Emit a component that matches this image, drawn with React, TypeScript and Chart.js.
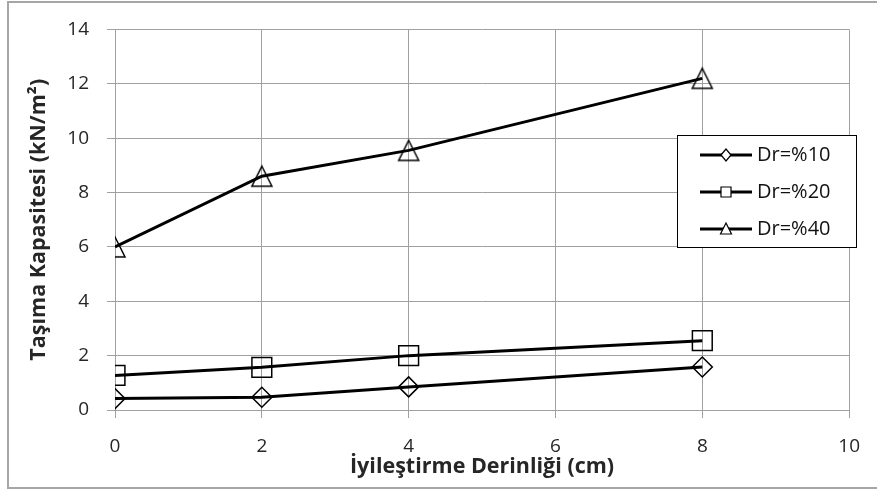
import React, { useEffect, useRef } from "react";
import { Chart, registerables } from "chart.js";

Chart.register(...registerables);

const depths = [0, 2, 4, 8];
const seriesLabels = ["Dr=%10", "Dr=%20", "Dr=%40"];
const dr10 = [0.42, 0.47, 0.85, 1.58];
const dr20 = [1.27, 1.57, 2.0, 2.55];
const dr40 = [6.0, 8.6, 9.55, 12.2];
const xTitle = "İyileştirme Derinliği (cm)";
const yTitle = "Taşıma Kapasitesi (kN/m²)";

const FONT = "'Open Sans', 'Noto Sans', sans-serif";
const TEXT = "#262626";

function makeTriangle(w: number, h: number, lw: number) {
  const c = document.createElement("canvas");
  const pad = 2;
  c.width = w + pad * 2;
  c.height = h + pad * 2;
  const ctx = c.getContext("2d")!;
  ctx.strokeStyle = "#000";
  ctx.lineWidth = lw;
  ctx.beginPath();
  ctx.moveTo(c.width / 2, pad);
  ctx.lineTo(pad + w, pad + h);
  ctx.lineTo(pad, pad + h);
  ctx.closePath();
  ctx.stroke();
  return c;
}

function drawMarker(ctx: CanvasRenderingContext2D, kind: string, x: number, y: number) {
  ctx.save();
  ctx.strokeStyle = "#000";
  ctx.fillStyle = "#fff";
  ctx.lineWidth = 1.2;
  ctx.beginPath();
  if (kind === "diamond") {
    ctx.moveTo(x - 5, y);
    ctx.lineTo(x, y - 6);
    ctx.lineTo(x + 5, y);
    ctx.lineTo(x, y + 6);
    ctx.closePath();
  } else if (kind === "square") {
    ctx.rect(x - 5, y - 5, 10, 10);
  } else {
    ctx.moveTo(x, y - 6);
    ctx.lineTo(x + 5.5, y + 5);
    ctx.lineTo(x - 5.5, y + 5);
    ctx.closePath();
  }
  ctx.fill();
  ctx.stroke();
  ctx.restore();
}

const legendPlugin = {
  id: "boxLegend",
  afterDraw(chart: any) {
    const ctx = chart.ctx as CanvasRenderingContext2D;
    const x0 = 677, y0 = 135, w = 179, h = 112;
    ctx.save();
    ctx.fillStyle = "#fff";
    ctx.fillRect(x0, y0, w, h);
    ctx.strokeStyle = "#000";
    ctx.lineWidth = 1;
    ctx.strokeRect(x0 + 0.5, y0 + 0.5, w, h);
    const kinds = ["diamond", "square", "triangle"];
    const rows = [155, 192, 229];
    chart.data.datasets.forEach((ds: any, i: number) => {
      const y = rows[i];
      ctx.strokeStyle = "#000";
      ctx.lineWidth = 3;
      ctx.beginPath();
      ctx.moveTo(700, y);
      ctx.lineTo(752, y);
      ctx.stroke();
      drawMarker(ctx, kinds[i], 726, y);
      ctx.fillStyle = "#111";
      ctx.font = `20px ${FONT}`;
      ctx.textBaseline = "middle";
      ctx.textAlign = "left";
      ctx.fillText(ds.label, 757, y);
    });
    ctx.restore();
  },
};

export default function App() {
  const ref = useRef<HTMLCanvasElement>(null);
  useEffect(() => {
    if (!ref.current) return;
    const tri = makeTriangle(20, 20, 1.5);
    const toPts = (arr: number[]) => depths.map((d, i) => ({ x: d, y: arr[i] }));
    const base = {
      borderColor: "#000",
      borderWidth: 3,
      pointBackgroundColor: "rgba(0,0,0,0)",
      pointBorderColor: "#000",
      pointBorderWidth: 1.5,
      tension: 0,
      fill: false,
    };
    const chart = new Chart(ref.current, {
      type: "line",
      data: {
        datasets: [
          { ...base, label: seriesLabels[0], data: toPts(dr10), pointStyle: "rectRot", pointRadius: 10 },
          { ...base, label: seriesLabels[1], data: toPts(dr20), pointStyle: "rect", pointRadius: 14 },
          { ...base, label: seriesLabels[2], data: toPts(dr40), pointStyle: tri as any, pointRadius: 11 },
        ],
      },
      options: {
        animation: false,
        responsive: false,
        layout: { padding: { top: 24, right: 21, bottom: 0, left: 0 } },
        plugins: { legend: { display: false }, tooltip: { enabled: false } },
        scales: {
          x: {
            type: "linear",
            min: 0,
            max: 10,
            ticks: { stepSize: 2, padding: 17, color: TEXT, font: { family: FONT, size: 19 } },
            grid: { color: "#a0a0a0", lineWidth: 1, tickLength: 8 },
            border: { color: "#a0a0a0" },
            title: {
              display: true,
              text: xTitle,
              color: TEXT,
              font: { family: FONT, size: 21.5, weight: "bold" },
              padding: { top: 0, bottom: 10 },
            },
            afterFit: (s: any) => {
              s.height = 80;
            },
          },
          y: {
            min: 0,
            max: 14,
            ticks: { stepSize: 2, padding: 18, color: TEXT, font: { family: FONT, size: 19 } },
            grid: { color: "#a0a0a0", lineWidth: 1, tickLength: 8 },
            border: { color: "#a0a0a0" },
            title: {
              display: true,
              text: yTitle,
              color: TEXT,
              font: { family: FONT, size: 21.5, weight: "bold" },
              padding: { top: 26, bottom: 0 },
            },
            afterFit: (s: any) => {
              s.width = 115;
            },
          },
        },
      },
      plugins: [legendPlugin],
    });
    return () => chart.destroy();
  }, []);

  return (
    <div style={{ position: "absolute", left: 0, top: 0, width: 877, height: 490, overflow: "hidden", background: "#fff" }}>
      <canvas ref={ref} width={877} height={490} style={{ position: "absolute", left: 0, top: 0, width: 877, height: 490 }} />
      <div
        style={{
          position: "absolute",
          left: 7,
          top: 1,
          width: 880,
          height: 488,
          boxSizing: "border-box",
          border: "2px solid #a6a6a6",
          pointerEvents: "none",
        }}
      />
    </div>
  );
}
